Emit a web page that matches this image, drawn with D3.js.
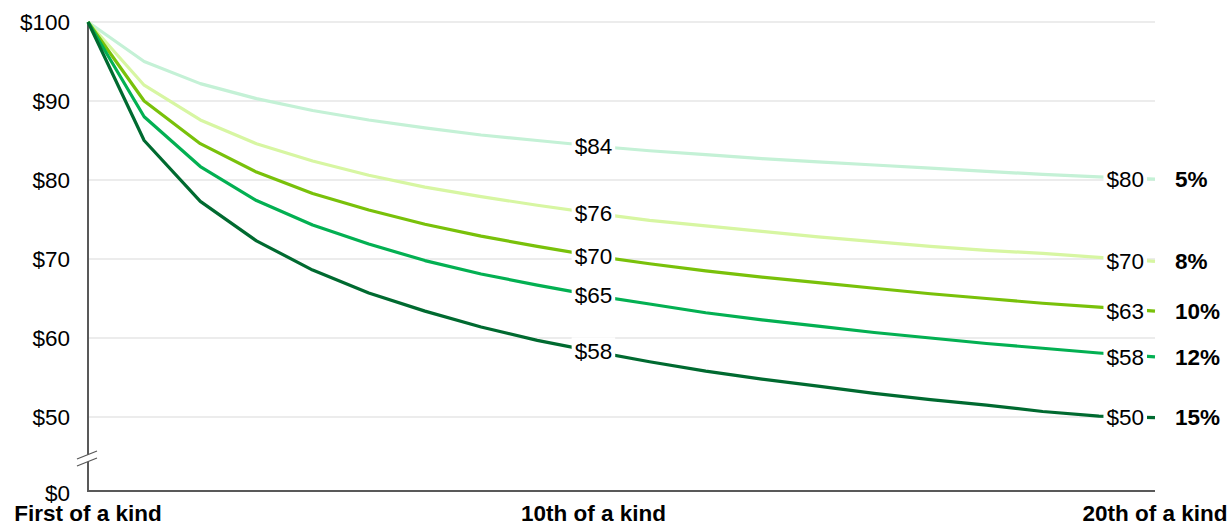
<!DOCTYPE html>
<html><head><meta charset="utf-8">
<script src="https://cdn.jsdelivr.net/npm/d3@7"></script>
<style>body{margin:0;background:#fff}svg{display:block}text{font-family:"Liberation Sans",Arial,sans-serif}</style>
</head><body>
<svg id="c" width="1232" height="525"></svg>
<script>
const units = d3.range(1, 21);
const xTickLabels = ["First of a kind", "10th of a kind", "20th of a kind"];
const xTickUnits = [1, 10, 20];
const yTicks = [0, 50, 60, 70, 80, 90, 100];
const seriesNames = ["5%", "8%", "10%", "12%", "15%"];
const colors = ["#c4f1d6", "#d7f6a2", "#79c10a", "#03b052", "#006a30"];
const s5  = [100,95,92.2,90.3,88.8,87.6,86.6,85.7,85.0,84.3,83.7,83.2,82.7,82.3,81.9,81.5,81.1,80.7,80.4,80.1];
const s8  = [100,92,87.6,84.6,82.4,80.6,79.1,77.9,76.8,75.8,74.9,74.2,73.5,72.8,72.2,71.6,71.1,70.7,70.2,69.7];
const s10 = [100,90,84.6,81.0,78.3,76.2,74.4,72.9,71.6,70.4,69.4,68.5,67.7,67.0,66.3,65.6,65.0,64.4,63.9,63.4];
const s12 = [100,88,81.7,77.4,74.3,71.9,69.8,68.1,66.7,65.4,64.3,63.2,62.3,61.5,60.7,60.0,59.3,58.7,58.1,57.6];
const s15 = [100,85,77.3,72.3,68.6,65.7,63.4,61.4,59.7,58.3,57.0,55.8,54.8,53.9,53.0,52.2,51.5,50.7,50.1,49.6];
const series = [s5, s8, s10, s12, s15];

const svg = d3.select("#c");
const x = d3.scaleLinear().domain([1, 20]).range([88, 1155]);
const y = d3.scaleLinear().domain([0, 50, 100]).range([491, 417, 22]);
const FS = 22.5;

// gridlines
svg.append("g").selectAll("line").data(yTicks.filter(d => d > 0)).join("line")
  .attr("x1", x(1)).attr("x2", x(20)).attr("y1", d => y(d)).attr("y2", d => y(d))
  .attr("stroke", "#d9d9d9").attr("stroke-width", 1);

// y tick labels
svg.append("g").selectAll("text").data(yTicks).join("text")
  .attr("x", 70).attr("y", d => y(d) + (d === 0 ? 2 : 0)).attr("dy", "0.35em")
  .attr("text-anchor", "end").attr("font-size", FS).attr("fill", "#000")
  .text(d => "$" + d);

// x tick labels
svg.append("g").selectAll("text").data(xTickUnits).join("text")
  .attr("x", d => x(d)).attr("y", 521).attr("text-anchor", "middle")
  .attr("font-size", FS).attr("font-weight", "bold").attr("fill", "#000")
  .text((d, i) => xTickLabels[i]);

// axes
svg.append("line").attr("x1", x(1)).attr("x2", x(1)).attr("y1", y(100)).attr("y2", y(0))
  .attr("stroke", "#595959").attr("stroke-width", 2);
svg.append("line").attr("x1", x(1) - 1).attr("x2", x(20)).attr("y1", y(0)).attr("y2", y(0))
  .attr("stroke", "#595959").attr("stroke-width", 2);

// axis break
const by = (y(50) + y(0)) / 2 + 6;
svg.append("polygon")
  .attr("points", `${x(1)-11},${by-1} ${x(1)+9},${by-9} ${x(1)+9},${by-2} ${x(1)-11},${by+6}`)
  .attr("fill", "#fff");
[[-1, -9], [6, -2]].forEach(([a, b]) => {
  svg.append("line").attr("x1", x(1) - 11).attr("y1", by + a).attr("x2", x(1) + 9).attr("y2", by + b)
    .attr("stroke", "#595959").attr("stroke-width", 1.2);
});

// lines
const line = d3.line().x((d, i) => x(units[i])).y(d => y(d));
svg.append("g").selectAll("path").data(series).join("path")
  .attr("d", line).attr("fill", "none")
  .attr("stroke", (d, i) => colors[i]).attr("stroke-width", 3.2).attr("stroke-linejoin", "round");

// labels
function label(px, py, txt, anchor) {
  const g = svg.append("g");
  const t = g.append("text").attr("x", px).attr("y", py).attr("dy", "0.35em")
    .attr("text-anchor", anchor).attr("font-size", FS).attr("fill", "#000").text(txt);
  const bb = t.node().getBBox();
  g.insert("rect", "text").attr("x", bb.x - 3).attr("y", bb.y - 2)
    .attr("width", bb.width + 6).attr("height", bb.height + 4).attr("fill", "#fff");
}
series.forEach((s, i) => {
  label(x(10), y(s[9]), "$" + Math.round(s[9]), "middle");
  label(x(20) - 11, y(s[19]), "$" + Math.round(s[19]), "end");
  svg.append("text").attr("x", 1175).attr("y", y(s[19])).attr("dy", "0.35em")
    .attr("font-size", FS).attr("font-weight", "bold").attr("fill", "#000").text(seriesNames[i]);
});
</script>
</body></html>
